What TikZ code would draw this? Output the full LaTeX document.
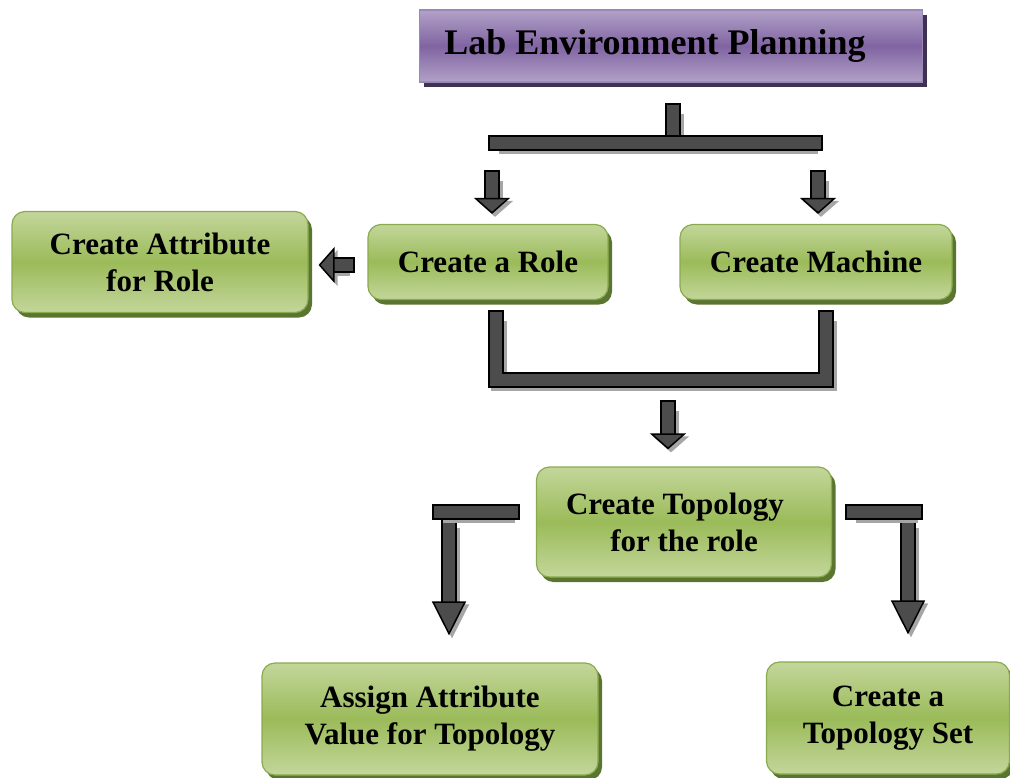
\documentclass[tikz,border=0pt]{standalone}
\usepackage{fontspec}
\setmainfont{Liberation Serif}
\usetikzlibrary{arrows.meta,shadows}

\definecolor{greenlight}{HTML}{C3D69B}
\definecolor{greenmid}{HTML}{9BBB59}
\definecolor{greenline}{HTML}{8AAA4E}
\definecolor{greenshadow}{HTML}{5A7530}
\definecolor{purplelight}{HTML}{B2A1C7}
\definecolor{purplemid}{HTML}{8064A2}
\definecolor{purpleline}{HTML}{9B87BA}
\definecolor{purpleshadow}{HTML}{3F3151}

\begin{document}
\begin{tikzpicture}[x=1pt, y=-1pt,
			every node/.style={font=\bfseries\fontsize{31}{37}\selectfont, align=center},
			box/.style={draw=greenline, line width=1.2pt, rounded corners=13pt,
				top color=greenlight, bottom color=greenlight, middle color=greenmid,
				drop shadow={shadow xshift=4pt, shadow yshift=-5pt, fill=greenshadow, opacity=1}},
			tube/.style={draw=black, line width=1.6pt, double=black!70, double distance=12.5pt, line cap=rect},
			bar/.style={tube, preaction={draw=black!35, double=black!35, transform canvas={shift={(3pt,-3pt)}}}},
			darrow/.style={tube, -{Triangle[width=36pt,length=16pt,line width=1.5pt,fill=black!70]},
				preaction={draw=black!35, double=black!35, -{Triangle[width=36pt,length=16pt,line width=1.5pt,fill=black!35]},
					transform canvas={shift={(3pt,-3pt)}}}},
			longarrow/.style={tube, -{Triangle[width=34pt,length=34pt,line width=1.5pt,fill=black!70]},
				preaction={draw=black!35, double=black!35, -{Triangle[width=34pt,length=34pt,line width=1.5pt,fill=black!35]},
					transform canvas={shift={(3pt,-3pt)}}}}]
			\useasboundingbox (0,0) rectangle (1010,777);
			% boxes
			\node[draw=purpleline, line width=1.2pt, top color=purplelight, bottom color=purplelight, middle color=purplemid,
				drop shadow={shadow xshift=4pt, shadow yshift=-5pt, fill=purpleshadow, opacity=1},
				minimum width=503pt, minimum height=72pt, font=\bfseries\fontsize{36}{42}\selectfont] (plan) at (671,46) {Lab Environment Planning\hspace*{32pt}};
			\node[box, minimum width=240pt, minimum height=75pt] (role) at (488,262) {Create a Role};
			\node[box, minimum width=272pt, minimum height=75pt] (machine) at (816,262) {Create Machine};
			\node[box, minimum width=296pt, minimum height=101pt] (attr) at (160,262) {Create Attribute\\for Role};
			\node[box, minimum width=295pt, minimum height=110pt] (topo) at (684,522) {Create Topology\hspace*{18pt}\\for the role};
			\node[box, minimum width=336pt, minimum height=112pt] (assign) at (430,719) {Assign Attribute\\Value for Topology};
			\node[box, minimum width=243pt, minimum height=112pt] (tset) at (888,718) {Create a\\Topology Set};
			% junction points
			\coordinate (stub) at (673,111);
			\coordinate (hub) at (673,143);
			\coordinate (hubL) at (496,143);
			\coordinate (hubR) at (815,143);
			\coordinate (r0) at (492,178);
			\coordinate (m0) at (818,178);
			\coordinate (ra) at (347,265);
			\coordinate (rs) at (496,318);
			\coordinate (ms) at (826,318);
			\coordinate (t0) at (668,408);
			\coordinate (tl) at (449,525);
			\coordinate (tr) at (908,525);
			% connectors
			\draw[bar] (stub) -- (hub);
			\draw[bar] (hubL) -- (hubR);
			\draw[darrow, shorten >=10pt] (r0) -- (r0 |- role.north);
			\draw[darrow, shorten >=10pt] (m0) -- (m0 |- machine.north);
			\draw[darrow, shorten >=10pt] (ra) -- (ra -| attr.east);
			\draw[bar] (rs) -- (rs |- 0,380) -- (ms |- 0,380) -- (ms);
			\draw[darrow, shorten >=17pt] (t0) -- (t0 |- topo.north);
			\draw[longarrow, shorten >=27pt] (tl) -- (tl |- assign.north);
			\draw[longarrow, shorten >=27pt] (tr) -- (tr |- tset.north);
			\draw[bar] ([xshift=-24pt]topo.west |- 0,512) -- (440,512);
			\draw[bar] ([xshift=21pt]topo.east |- 0,512) -- (915,512);
		\end{tikzpicture}
\end{document}
